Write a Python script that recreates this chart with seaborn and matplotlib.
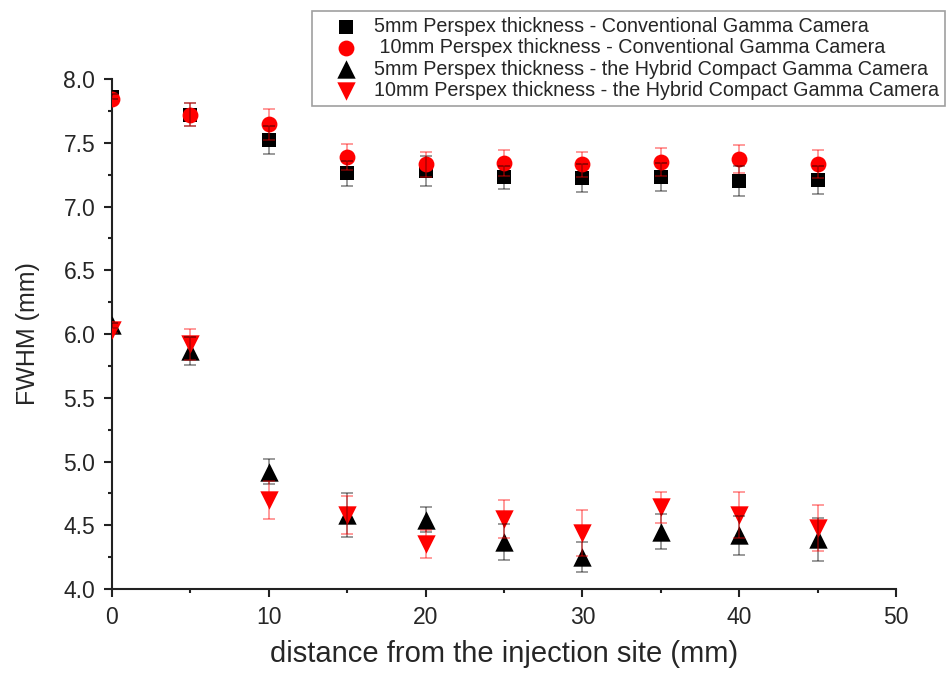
import numpy as np
import pandas as pd
import matplotlib
matplotlib.use("Agg")
import matplotlib.pyplot as plt
import seaborn as sns
from matplotlib.ticker import MultipleLocator

# distance from the injection site (mm)
distance = [0, 5, 10, 15, 20, 25, 30, 35, 40, 45]

# FWHM (mm), with error bar half-lengths
conv_5mm = [7.86, 7.72, 7.52, 7.26, 7.28, 7.23, 7.22, 7.23, 7.20, 7.21]
conv_5mm_err = [0.02, 0.09, 0.11, 0.10, 0.12, 0.09, 0.11, 0.11, 0.12, 0.11]
conv_10mm = [7.84, 7.72, 7.645, 7.39, 7.33, 7.34, 7.33, 7.35, 7.37, 7.33]
conv_10mm_err = [0.02, 0.09, 0.12, 0.10, 0.10, 0.10, 0.10, 0.11, 0.11, 0.11]
hyb_5mm = [6.07, 5.87, 4.92, 4.58, 4.545, 4.37, 4.25, 4.45, 4.42, 4.39]
hyb_5mm_err = [0.02, 0.11, 0.10, 0.17, 0.10, 0.14, 0.12, 0.14, 0.15, 0.17]
hyb_10mm = [6.03, 5.92, 4.70, 4.58, 4.35, 4.55, 4.44, 4.64, 4.58, 4.48]
hyb_10mm_err = [0.02, 0.12, 0.15, 0.15, 0.11, 0.15, 0.18, 0.12, 0.18, 0.18]

labels = [
    "5mm Perspex thickness - Conventional Gamma Camera",
    " 10mm Perspex thickness - Conventional Gamma Camera",
    "5mm Perspex thickness - the Hybrid Compact Gamma Camera",
    "10mm Perspex thickness - the Hybrid Compact Gamma Camera",
]

series = [
    (conv_5mm, conv_5mm_err, "s", "black", 110),
    (conv_10mm, conv_10mm_err, "o", "red", 130),
    (hyb_5mm, hyb_5mm_err, "^", "black", 175),
    (hyb_10mm, hyb_10mm_err, "v", "red", 175),
]

sns.set_style("ticks")
plt.rcParams["font.family"] = ["Liberation Sans", "DejaVu Sans"]

fig = plt.figure(figsize=(9.48, 6.73), dpi=100)
ax = fig.add_axes([0.1181, 0.1248, 0.8270, 0.7578])

for (vals, errs, mk, col, size), lab in zip(series, labels):
    df = pd.DataFrame({"distance": distance, "fwhm": vals})
    sns.scatterplot(data=df, x="distance", y="fwhm", marker=mk, color=col,
                    s=size, linewidth=0, label=lab, ax=ax, zorder=3)

for vals, errs, mk, col, size in series:
    ax.errorbar(distance, vals, yerr=errs, fmt="none", ecolor=col, alpha=0.5,
                elinewidth=1.1, capsize=4.3, capthick=1.1, zorder=4)

ax.set_xlim(0, 50)
ax.set_ylim(4.0, 8.0)
ax.xaxis.set_major_locator(MultipleLocator(10))
ax.xaxis.set_minor_locator(MultipleLocator(5))
ax.yaxis.set_major_locator(MultipleLocator(0.5))
ax.yaxis.set_minor_locator(MultipleLocator(0.25))
ax.yaxis.set_major_formatter(matplotlib.ticker.FormatStrFormatter("%.1f"))

sns.despine(ax=ax)
for sp in ["left", "bottom"]:
    ax.spines[sp].set_linewidth(1.5)
    ax.spines[sp].set_color("#222222")
    ax.spines[sp].set_clip_on(False)
ax.tick_params(which="major", length=6, width=1.5, labelsize=16.5, color="#222222", pad=6)
ax.tick_params(which="minor", length=3, width=1.5, color="#222222")

ax.set_xlabel("distance from the injection site (mm)", fontsize=21, labelpad=8)
ax.set_ylabel("FWHM (mm)", fontsize=18, labelpad=17)

ax.get_legend().remove()
handles, labs = ax.get_legend_handles_labels()
leg = fig.legend(handles, labs, loc="upper left",
                 bbox_to_anchor=(312 / 948, 1 - 11 / 673), fontsize=14.2,
                 frameon=True, fancybox=False, edgecolor="#888888",
                 borderaxespad=0, labelspacing=0.12, handlelength=2.8,
                 handletextpad=0.05, borderpad=0.3, markerscale=1.0)
leg.get_frame().set_linewidth(1.2)

fig.savefig("out.png", dpi=100)
